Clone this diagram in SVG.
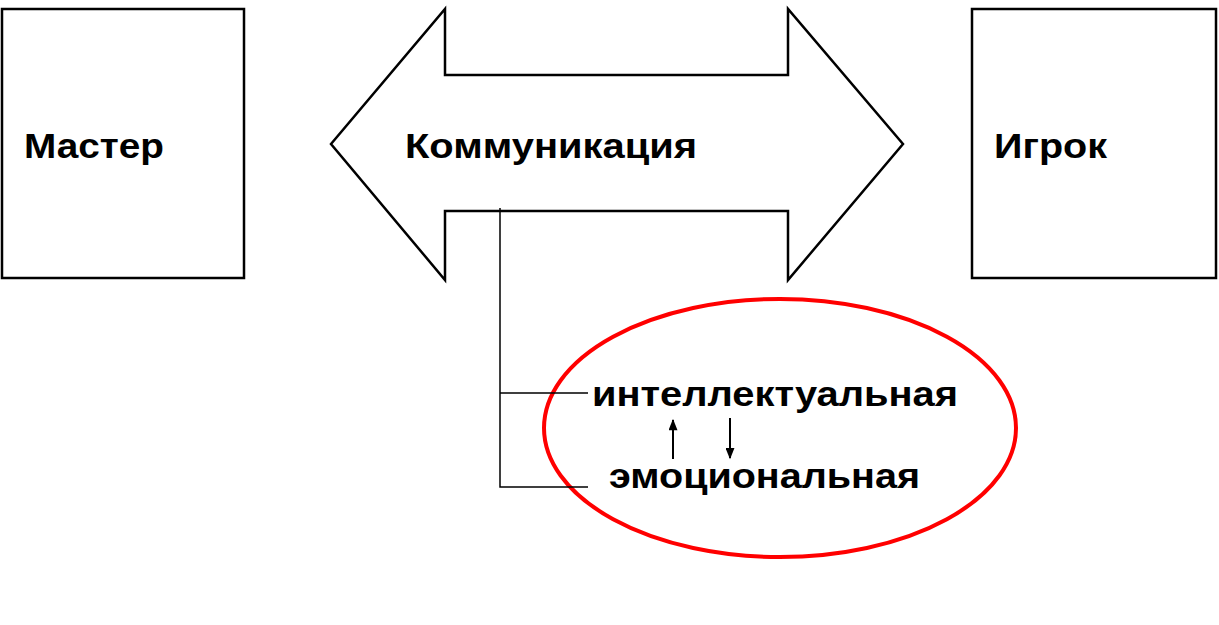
<svg xmlns="http://www.w3.org/2000/svg" width="1219" height="625" viewBox="0 0 1219 625">
<defs>
<style>
.box{fill:#fff;stroke:#000;stroke-width:2.5}
.t{font-family:"Liberation Sans",Arial,sans-serif;font-weight:bold;fill:#000;font-size:35px}
.ln{fill:none;stroke:#000;stroke-width:1.5}
.ar{fill:none;stroke:#000;stroke-width:2}
</style>
<marker id="ah" viewBox="0 0 10 8" refX="9" refY="4" markerWidth="12" markerHeight="9" orient="auto-start-reverse" markerUnits="userSpaceOnUse">
<path d="M0,0 L10,4 L0,8 z" fill="#000"/>
</marker>
</defs>
<rect width="1219" height="625" fill="#fff"/>
<g id="master">
<rect class="box" x="2" y="9" width="242" height="269"/>
<text class="t" x="24" y="158" textLength="140" lengthAdjust="spacingAndGlyphs">Мастер</text>
</g>
<g id="communication">
<polygon class="box" points="331,144 445,9 445,75 788,75 788,9 903,144 788,280 788,211 445,211 445,280"/>
<text class="t" x="405" y="158" textLength="292" lengthAdjust="spacingAndGlyphs">Коммуникация</text>
</g>
<g id="player">
<rect class="box" x="972" y="9" width="244" height="269"/>
<text class="t" x="994" y="158" textLength="113" lengthAdjust="spacingAndGlyphs">Игрок</text>
</g>
<g id="types">
<ellipse cx="780" cy="428" rx="236" ry="129" fill="none" stroke="#ff0000" stroke-width="4"/>
<text class="t" x="592" y="406" textLength="366" lengthAdjust="spacingAndGlyphs">интеллектуальная</text>
<text class="t" x="609" y="488" textLength="311" lengthAdjust="spacingAndGlyphs">эмоциональная</text>
</g>
<g id="connectors">
<polyline class="ln" points="588,393 500,393 500,208 500,487 588,487"/>
<line class="ar" x1="673" y1="459" x2="673" y2="420" marker-end="url(#ah)"/>
<line class="ar" x1="730" y1="418" x2="730" y2="458" marker-end="url(#ah)"/>
</g>
</svg>
